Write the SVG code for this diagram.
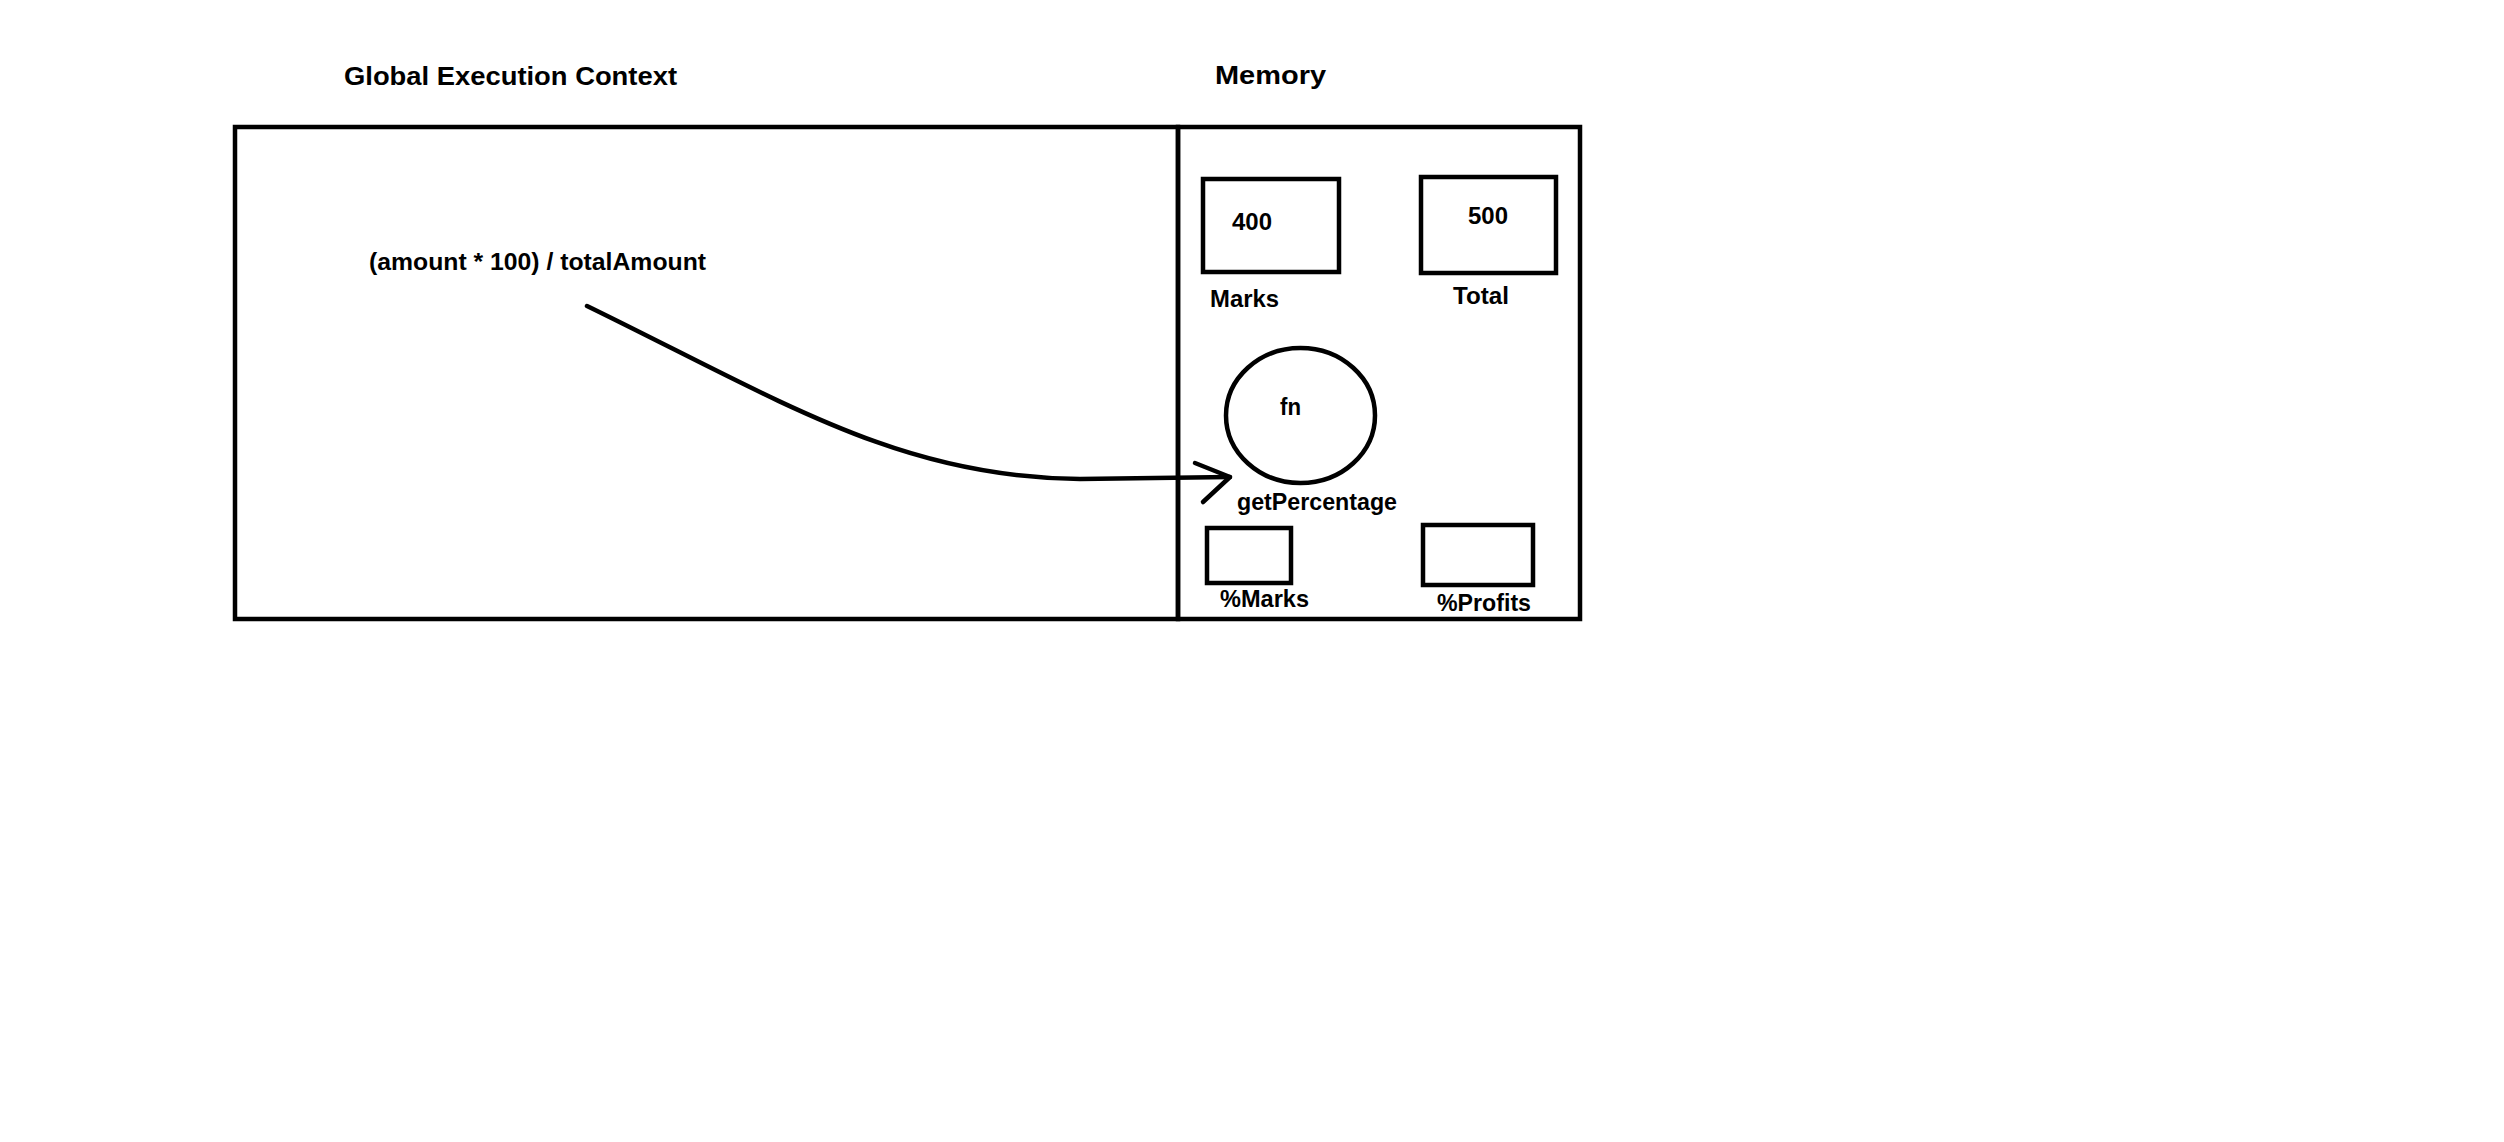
<svg xmlns="http://www.w3.org/2000/svg" width="2504" height="1142" viewBox="0 0 2504 1142">
<style>
.s{fill:none;stroke:#000;stroke-width:4.5}
.t{font-family:"Liberation Sans",Arial,sans-serif;font-weight:bold;font-size:24px;fill:#000}
.h{font-size:26px}
</style>
<rect width="2504" height="1142" fill="#fff"/>
<g id="titles">
<text class="t h" x="344" y="85" textLength="333" lengthAdjust="spacingAndGlyphs">Global Execution Context</text>
<text class="t h" x="1215" y="84" textLength="111" lengthAdjust="spacingAndGlyphs">Memory</text>
</g>
<g id="global-execution-context">
<rect class="s" x="235" y="127" width="943" height="492"/>
<text class="t" x="369" y="270" textLength="337" lengthAdjust="spacingAndGlyphs">(amount * 100) / totalAmount</text>
</g>
<g id="memory">
<rect class="s" x="1178" y="127" width="402" height="492"/>
</g>
<g id="marks">
<rect class="s" x="1203" y="179" width="136" height="93"/>
<text class="t" x="1232" y="230" textLength="40" lengthAdjust="spacingAndGlyphs">400</text>
<text class="t" x="1210" y="307" textLength="69" lengthAdjust="spacingAndGlyphs">Marks</text>
</g>
<g id="total">
<rect class="s" x="1421" y="177" width="135" height="96"/>
<text class="t" x="1468" y="224" textLength="40" lengthAdjust="spacingAndGlyphs">500</text>
<text class="t" x="1453" y="304" textLength="56" lengthAdjust="spacingAndGlyphs">Total</text>
</g>
<g id="getPercentage">
<ellipse class="s" cx="1300.5" cy="415.5" rx="74.5" ry="67.5"/>
<text class="t" x="1280" y="415" textLength="21" lengthAdjust="spacingAndGlyphs">fn</text>
<text class="t" x="1237" y="510" textLength="160" lengthAdjust="spacingAndGlyphs">getPercentage</text>
</g>
<g id="pct-marks">
<rect class="s" x="1207" y="528" width="84" height="55"/>
<text class="t" x="1220" y="607" textLength="89" lengthAdjust="spacingAndGlyphs">%Marks</text>
</g>
<g id="pct-profits">
<rect class="s" x="1423" y="525" width="110" height="60"/>
<text class="t" x="1437" y="611" textLength="94" lengthAdjust="spacingAndGlyphs">%Profits</text>
</g>
<g id="connectors">
<path class="s" stroke-linecap="round" d="M587,306 C780,400 900,478 1080,479 L1230,477"/>
<path class="s" stroke-linecap="round" stroke-linejoin="round" d="M1195,463 L1230,477 L1203,502"/>
</g>
</svg>
